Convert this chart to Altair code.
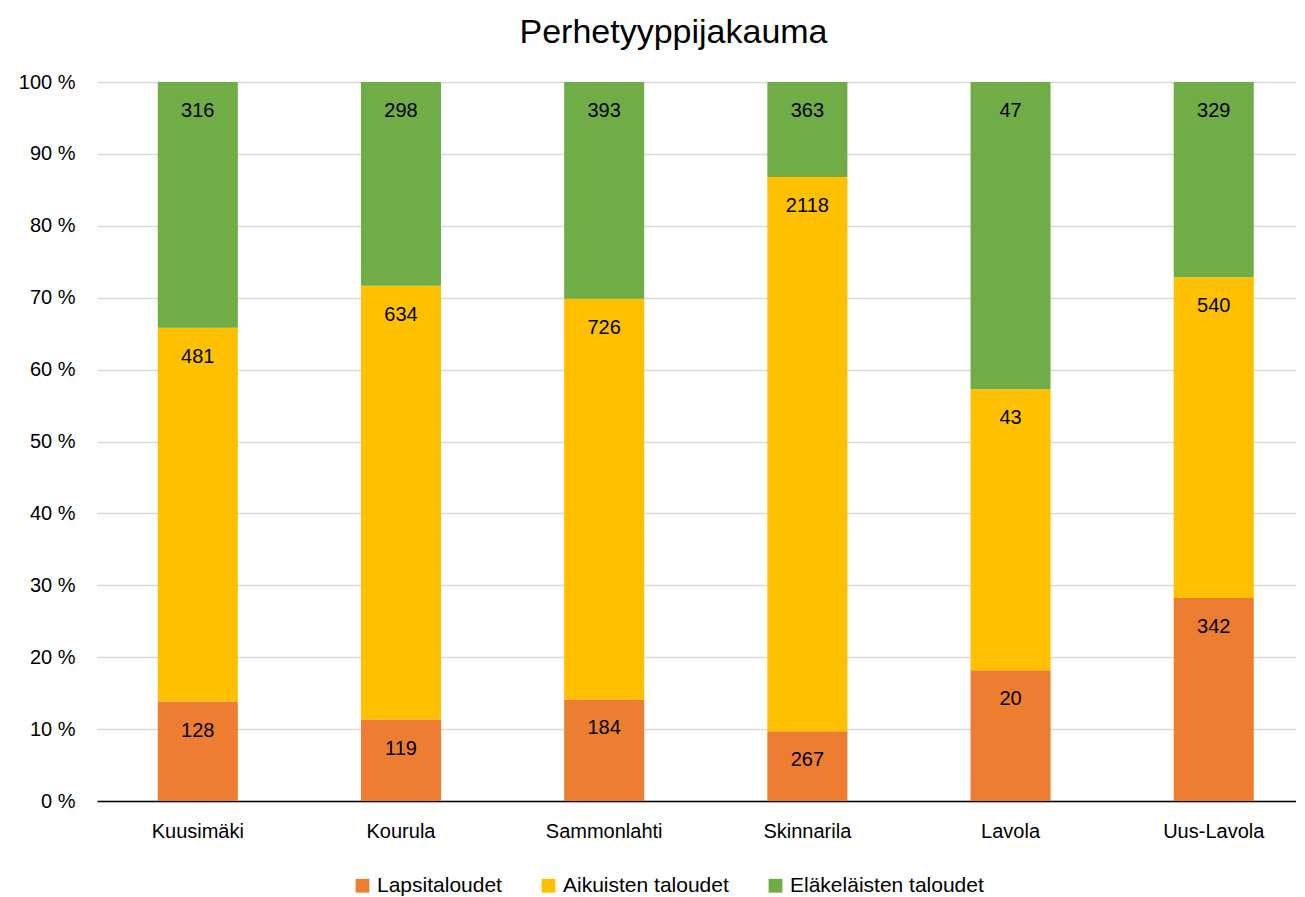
import altair as alt
import pandas as pd

areas = ["Kuusimäki", "Kourula", "Sammonlahti", "Skinnarila", "Lavola", "Uus-Lavola"]
series = ["Lapsitaloudet", "Aikuisten taloudet", "Eläkeläisten taloudet"]
colors = ["#ED7D31", "#FFC000", "#70AD47"]
lapsi = [128, 119, 184, 267, 20, 342]
aikuis = [481, 634, 726, 2118, 43, 540]
elake = [316, 298, 393, 363, 47, 329]

rows = []
for i, a in enumerate(areas):
    for j, (s, vals) in enumerate(zip(series, [lapsi, aikuis, elake])):
        rows.append({"area": a, "series": s, "ord": j, "value": vals[i]})
df = pd.DataFrame(rows)

FONT = "Liberation Sans"

base = alt.Chart(df).transform_joinaggregate(
    total="sum(value)", groupby=["area"]
).transform_calculate(
    pct="datum.value / datum.total"
).transform_window(
    cum="sum(pct)", sort=[alt.SortField("ord")], groupby=["area"],
    frame=[None, 0]
).transform_calculate(
    start="datum.cum - datum.pct"
)

x = alt.X("area:N", sort=areas, title=None,
          scale=alt.Scale(paddingInner=0.606, paddingOuter=0.2535, align=0.59),
          axis=alt.Axis(labelAngle=0, labelFontSize=20, labelFont=FONT, labelColor="#000000",
                        ticks=False, domainColor="#000000", domainWidth=1.5,
                        labelPadding=20))

bars = base.mark_bar().encode(
    x=x,
    y=alt.Y("cum:Q", title=None,
            scale=alt.Scale(domain=[0, 1]),
            axis=alt.Axis(values=[i / 10 for i in range(11)],
                          labelExpr="format(datum.value * 100, 'd') + ' %'",
                          labelFontSize=20, labelFont=FONT, labelColor="#000000",
                          ticks=False, domain=False, gridColor="#D9D9D9",
                          gridWidth=1.3, labelPadding=22)),
    y2="start:Q",
    color=alt.Color("series:N", sort=series,
                    scale=alt.Scale(domain=series, range=colors),
                    legend=alt.Legend(title=None, orient="none", direction="horizontal",
                                      legendX=255, legendY=793,
                                      symbolType="square", symbolSize=190,
                                      symbolStrokeWidth=0, labelLimit=400,
                                      labelFontSize=21, labelFont=FONT, labelColor="#000000",
                                      columnPadding=36)),
)

labels = base.mark_text(fontSize=20, font=FONT, color="#000000", baseline="middle", dy=29).encode(
    x=alt.X("area:N", sort=areas),
    y=alt.Y("cum:Q"),
    text=alt.Text("value:Q"),
)

chart = alt.layer(bars, labels).properties(
    width=1199, height=719,
    title=alt.TitleParams("Perhetyyppijakauma", fontSize=34, font=FONT, fontWeight="normal",
                          color="#000000", anchor="middle", offset=22, dx=-23),
    padding={"left": 10, "top": 8, "right": 0, "bottom": 5},
).configure_view(stroke=None)

chart.save("out.html", embed_options={"renderer": "svg", "actions": False})
